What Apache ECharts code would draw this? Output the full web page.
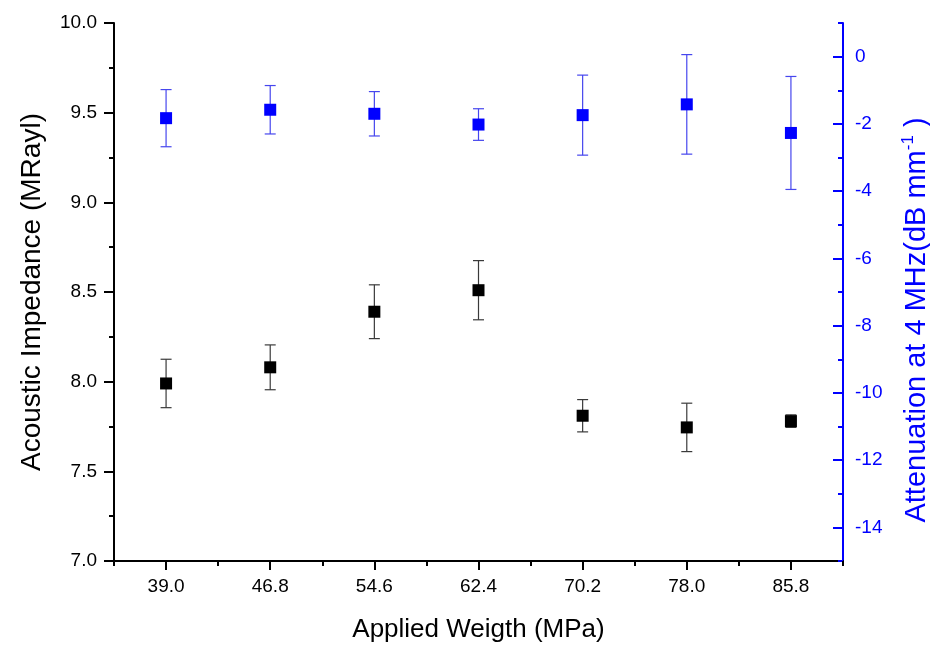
<!DOCTYPE html>
<html>
<head>
<meta charset="utf-8">
<script src="https://cdn.jsdelivr.net/npm/echarts@6/dist/echarts.min.js"></script>
<style>
html,body{margin:0;padding:0;background:#fff;}
#chart{width:930px;height:648px;}
</style>
</head>
<body>
<div id="chart"></div>
<script>
// ---- data ----
const weights = [39.0, 46.8, 54.6, 62.4, 70.2, 78.0, 85.8];
const impedance = [7.99, 8.08, 8.39, 8.51, 7.81, 7.745, 7.78];
const impedanceErr = [0.135, 0.125, 0.15, 0.165, 0.09, 0.135, 0.035];
const attenuation = [-1.83, -1.58, -1.70, -2.02, -1.74, -1.42, -2.27];
const attenuationErr = [0.85, 0.72, 0.66, 0.47, 1.19, 1.48, 1.68];
const xTickLabels = [39.0, 46.8, 54.6, 62.4, 70.2, 78.0, 85.8];
const rightTickLabels = [0, -2, -4, -6, -8, -10, -12, -14];

const FONT = "'Liberation Sans', Arial, sans-serif";
const BLUE = '#0000ff';

const chart = echarts.init(document.getElementById('chart'), null, {renderer: 'canvas'});

function errData(vals, errs) {
  return weights.map((w, i) => [w, vals[i] - errs[i], vals[i] + errs[i]]);
}
function errRender(color) {
  return function (params, api) {
    const x = api.value(0);
    const lo = api.coord([x, api.value(1)]);
    const hi = api.coord([x, api.value(2)]);
    const hw = 5.5;
    const st = {stroke: color, lineWidth: 1.2};
    return {
      type: 'group',
      children: [
        {type: 'line', shape: {x1: hi[0], y1: hi[1], x2: lo[0], y2: lo[1]}, style: st},
        {type: 'line', shape: {x1: hi[0] - hw, y1: hi[1], x2: hi[0] + hw, y2: hi[1]}, style: st},
        {type: 'line', shape: {x1: lo[0] - hw, y1: lo[1], x2: lo[0] + hw, y2: lo[1]}, style: st}
      ]
    };
  };
}

const option = {
  animation: false,
  backgroundColor: '#fff',
  grid: {left: 114, right: 87, top: 23, bottom: 87, containLabel: false, outerBoundsMode: 'none'},
  xAxis: [
    {
      type: 'value', min: 35.1, max: 89.7, position: 'bottom',
      name: 'Applied Weigth (MPa)', nameLocation: 'middle', nameGap: 56,
      nameTextStyle: {fontFamily: FONT, fontSize: 26, color: '#000'},
      axisLine: {show: true, onZero: false, lineStyle: {color: '#000', width: 2}},
      axisTick: {show: true, customValues: xTickLabels, length: 9, lineStyle: {color: '#000', width: 2}},
      axisLabel: {customValues: xTickLabels, margin: 16, fontFamily: FONT, fontSize: 19, color: '#000',
        formatter: v => Number(v).toFixed(1)},
      splitLine: {show: false}
    },
    {
      type: 'value', min: 35.1, max: 89.7, interval: 7.8, position: 'bottom',
      axisLine: {show: false, onZero: false},
      axisTick: {show: true, length: 5, lineStyle: {color: '#000', width: 2}},
      axisLabel: {show: false},
      splitLine: {show: false}
    }
  ],
  yAxis: [
    {
      type: 'value', min: 7, max: 10, interval: 0.5, position: 'left',
      name: 'Acoustic Impedance (MRayl)', nameLocation: 'middle', nameGap: 68,
      nameTextStyle: {fontFamily: FONT, fontSize: 28, color: '#000'},
      axisLine: {show: true, onZero: false, lineStyle: {color: '#000', width: 2}},
      axisTick: {show: true, length: 10, lineStyle: {color: '#000', width: 2}},
      minorTick: {show: true, splitNumber: 2, length: 5, lineStyle: {color: '#000', width: 2}},
      axisLabel: {margin: 17, fontFamily: FONT, fontSize: 19, color: '#000',
        formatter: v => Number(v).toFixed(1)},
      splitLine: {show: false}
    },
    {
      type: 'value', min: -15, max: 1, position: 'right',
      name: 'Attenuation at 4 MHz(dB mm{sup|-1} )', nameLocation: 'middle', nameGap: 57,
      nameTextStyle: {fontFamily: FONT, fontSize: 29, color: BLUE, padding: [0, 56, 0, 0],
        rich: {sup: {fontFamily: FONT, fontSize: 17, color: BLUE, padding: [0, 0, 16, 0]}}},
      axisLine: {show: true, onZero: false, lineStyle: {color: BLUE, width: 2}},
      axisTick: {show: true, inside: true, customValues: rightTickLabels, length: 10, lineStyle: {color: BLUE, width: 2}},
      axisLabel: {customValues: rightTickLabels, margin: 12, fontFamily: FONT, fontSize: 19, color: BLUE},
      splitLine: {show: false}
    },
    {
      type: 'value', min: -15, max: 1, interval: 2, position: 'right',
      axisLine: {show: false, onZero: false},
      axisTick: {show: true, inside: true, length: 5, lineStyle: {color: BLUE, width: 2}},
      axisLabel: {show: false},
      splitLine: {show: false}
    }
  ],
  series: [
    {
      type: 'custom', xAxisIndex: 0, yAxisIndex: 0, z: 2,
      data: errData(impedance, impedanceErr),
      encode: {x: 0, y: [1, 2]},
      renderItem: errRender('#3a3a3a')
    },
    {
      type: 'custom', xAxisIndex: 0, yAxisIndex: 1, z: 2,
      data: errData(attenuation, attenuationErr),
      encode: {x: 0, y: [1, 2]},
      renderItem: errRender('#4646ee')
    },
    {
      type: 'scatter', xAxisIndex: 0, yAxisIndex: 0, z: 5,
      symbol: 'rect', symbolSize: 12,
      itemStyle: {color: '#000', opacity: 1},
      data: weights.map((w, i) => [w, impedance[i]])
    },
    {
      type: 'scatter', xAxisIndex: 0, yAxisIndex: 1, z: 5,
      symbol: 'rect', symbolSize: 12,
      itemStyle: {color: BLUE, opacity: 1},
      data: weights.map((w, i) => [w, attenuation[i]])
    }
  ]
};
chart.setOption(option);
</script>
</body>
</html>
